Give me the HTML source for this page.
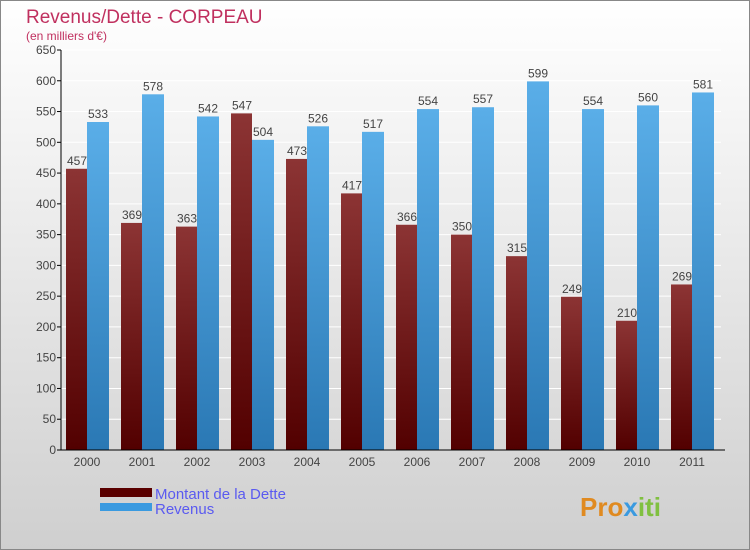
<!DOCTYPE html>
<html><head><meta charset="utf-8"><style>
body{margin:0;width:750px;height:550px;overflow:hidden;font-family:"Liberation Sans","DejaVu Sans",sans-serif}
svg{display:block}
</style></head><body>
<svg id="chart" width="750" height="550" xmlns="http://www.w3.org/2000/svg">
<defs>
<linearGradient id="bg" x1="0" y1="0" x2="0" y2="1"><stop offset="0" stop-color="#ffffff"/><stop offset="1" stop-color="#cfcfcf"/></linearGradient>
<linearGradient id="gd" x1="0" y1="0" x2="0" y2="1"><stop offset="0" stop-color="#8c3434"/><stop offset="1" stop-color="#520000"/></linearGradient>
<linearGradient id="gr" x1="0" y1="0" x2="0" y2="1"><stop offset="0" stop-color="#5aaee8"/><stop offset="1" stop-color="#2a78b4"/></linearGradient>
</defs>
<rect x="0.5" y="0.5" width="749" height="549" fill="url(#bg)" stroke="#888"/>
<text x="26" y="23" font-size="19" fill="#c0305f">Revenus/Dette - CORPEAU</text>
<text x="26" y="40" font-size="12" fill="#c0305f">(en milliers d'€)</text>
<g id="grid"></g><g id="bars"></g><g id="axes"></g>
<rect x="100" y="488" width="52" height="9" fill="#5a0000"/>
<text x="155" y="499" font-size="15" fill="#5a5af0">Montant de la Dette</text>
<rect x="100" y="503" width="52" height="8" fill="#3a9ae0"/>
<text x="155" y="514" font-size="15" fill="#5a5af0">Revenus</text>
<text x="580" y="516" font-size="26" font-weight="bold" fill="#e08a20">Pro<tspan fill="#3a9ae0">x</tspan><tspan fill="#80c040">iti</tspan></text>
</svg>
<script>
const years=["2000","2001","2002","2003","2004","2005","2006","2007","2008","2009","2010","2011"];
const dette=[457,369,363,547,473,417,366,350,315,249,210,269];
const revenus=[533,578,542,504,526,517,554,557,599,554,560,581];
const ticks=[0,50,100,150,200,250,300,350,400,450,500,550,600,650];
const NS="http://www.w3.org/2000/svg";
const x0=61,step=55,yZero=450,yTop=50,vmax=650;
const y=v=>yZero-(v/vmax)*(yZero-yTop);
const grid=document.getElementById('grid'),bars=document.getElementById('bars'),axes=document.getElementById('axes');
function mk(tag,attrs,parent){const e=document.createElementNS(NS,tag);for(const k in attrs)e.setAttribute(k,attrs[k]);parent.appendChild(e);return e;}
ticks.forEach(t=>{
 if(t>0){const g=mk('line',{x1:x0,x2:x0+step*12,y1:y(t),y2:y(t),stroke:'#ffffff','stroke-width':1},grid);
 
 }
 const tk=mk('line',{x1:x0-4,x2:x0,y1:y(t),y2:y(t),stroke:'#000'},axes);
 
 
 const tx=mk('text',{x:x0-5,y:y(t)+4,'font-size':12,'text-anchor':'end',fill:'#444'},axes);
 tx.textContent=t;
 
 
});
years.forEach((yr,i)=>{
 const gx=x0+i*step;
 const d=mk('rect',{x:gx+5,y:y(dette[i]),width:21,height:yZero-y(dette[i]),fill:'url(#gd)'},bars);
 
 
 const r=mk('rect',{x:gx+26,y:y(revenus[i]),width:22,height:yZero-y(revenus[i]),fill:'url(#gr)'},bars);
 
 
 const dl=mk('text',{x:gx+16,y:y(dette[i])-4,'font-size':12,'text-anchor':'middle',fill:'#444'},bars);
 dl.textContent=dette[i];
 
 
 const rl=mk('text',{x:gx+37,y:y(revenus[i])-4,'font-size':12,'text-anchor':'middle',fill:'#444'},bars);
 rl.textContent=revenus[i];
 
 
 const xl=mk('text',{x:gx+26,y:466,'font-size':12,'text-anchor':'middle',fill:'#444'},axes);
 xl.textContent=yr;
 
 
});
const ya=mk('line',{x1:x0,x2:x0,y1:yTop,y2:yZero,stroke:'#000'},axes);


const xa=mk('line',{x1:x0,x2:x0+step*12+4,y1:yZero,y2:yZero,stroke:'#000'},axes);


</script>
</body></html>
